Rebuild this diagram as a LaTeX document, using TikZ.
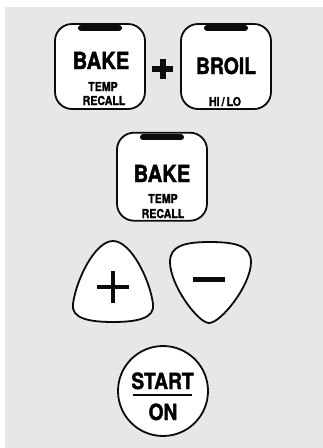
\documentclass[tikz,border=0pt]{standalone}
\usepackage{fontspec}
\newfontfamily\keyfont{TeX Gyre Heros}[FakeStretch=0.86,FakeBold=1.6]
\definecolor{panel}{HTML}{E6E7E9}
\definecolor{ink}{HTML}{0B0B0B}

\begin{document}
\begin{tikzpicture}[x=1pt,y=-1pt,
    keybox/.style={draw=ink,line width=1.8pt,fill=white,rounded corners=17pt,
      minimum width=90pt,minimum height=85pt,inner sep=0pt},
    keyline/.style={draw=ink,line width=1.8pt,fill=white},
    bigtext/.style={anchor=base,inner sep=0pt,font=\keyfont\bfseries\fontsize{23.5}{24}\selectfont},
    smalltext/.style={anchor=base,inner sep=0pt,font=\keyfont\bfseries\fontsize{12.3}{13}\selectfont},
    lamp/.style={ink,line width=6pt,line cap=round},
    signbar/.style={ink,line width=4.8pt}]
  \useasboundingbox (0,0) rectangle (323,448);
  \fill[panel] (5,7) rectangle (323,448);

  % bake + broil
  \node[keybox] (bakeA) at (100,66.5) {};
  \node[keybox] (broil) at (226,66.5) {};
  \draw[lamp] ([xshift=-19pt,yshift=-5pt]bakeA.north) -- ([xshift=19pt,yshift=-5pt]bakeA.north);
  \draw[lamp] ([xshift=-19pt,yshift=-5pt]broil.north) -- ([xshift=19pt,yshift=-5pt]broil.north);
  \node[bigtext] (bakeAlbl) at (101,69) {BAKE};
  \node[smalltext] (tempA) at (103,91) {TEMP};
  \node[smalltext] (recallA) at (104,105) {RECALL};
  \node[bigtext,font=\keyfont\bfseries\fontsize{22.5}{23}\selectfont] (broillbl) at (226,74) {BROIL};
  \node[smalltext] (hilo) at (225,106) {HI\,/\,LO};
  \draw[ink,line width=6pt] (152,69) -- (173,69);
  \draw[ink,line width=6pt] (162.5,59) -- (162.5,79);

  % bake alone
  \node[keybox,minimum height=88pt] (bakeB) at (162,176.7) {};
  \draw[lamp] ([xshift=-19pt,yshift=-5.5pt]bakeB.north) -- ([xshift=19pt,yshift=-5.5pt]bakeB.north);
  \node[bigtext] (bakeBlbl) at (162,182) {BAKE};
  \node[smalltext] (tempB) at (163,203) {TEMP};
  \node[smalltext] (recallB) at (163,218) {RECALL};

  % up / down
  \draw[keyline] (113,241) .. controls (131,241) and (150,280) .. (153,304)
    .. controls (155,318) and (138,322) .. (113,322)
    .. controls (88,322) and (71,318) .. (73,304)
    .. controls (76,280) and (95,241) .. (113,241) -- cycle;
  \draw[signbar] (97,287) -- (129,287);
  \draw[signbar] (113,271) -- (113,303);
  \draw[keyline] (210,242) .. controls (236,242) and (251,246) .. (251,262)
    .. controls (251,285) and (221,323) .. (209,323)
    .. controls (198,323) and (170,285) .. (170,262)
    .. controls (170,246) and (184,242) .. (210,242) -- cycle;
  \draw[signbar] (193,279.5) -- (225,279.5);

  % start
  \node[keyline,circle,minimum size=90pt,inner sep=0pt] (start) at (163,391) {};
  \node[bigtext,font=\keyfont\bfseries\fontsize{22.3}{23}\selectfont] (startlbl) at (162.5,389) {START};
  \node[bigtext,font=\keyfont\bfseries\fontsize{22.3}{23}\selectfont] (onlbl) at (163,420) {ON};
  \draw[ink,line width=2pt] ([shift={(1.5,6)}]startlbl.base west) -- ([shift={(-1.5,6)}]startlbl.base east);
\end{tikzpicture}
\end{document}
